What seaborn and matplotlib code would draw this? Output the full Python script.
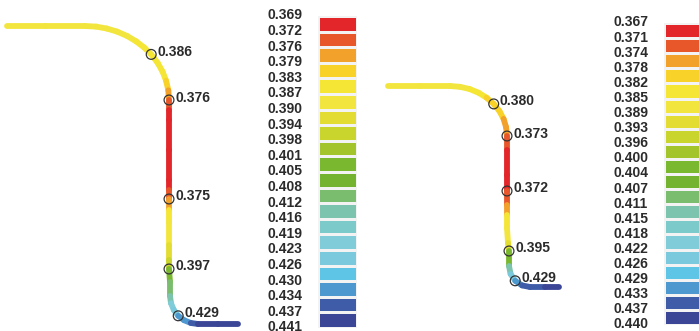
import numpy as np
import matplotlib
matplotlib.use("Agg")
import matplotlib.pyplot as plt
from matplotlib.collections import LineCollection
from matplotlib.colors import ListedColormap, BoundaryNorm
from matplotlib.transforms import ScaledTranslation
import seaborn as sns

# Contour palette shared by both thickness scales (thin = red, thick = blue)
palette = ["#E3262A", "#E8572A", "#F2A12A", "#F8D228", "#F5E535", "#F2E63E",
           "#E3DD33", "#C9D42C", "#A3C42A", "#7AB830", "#73B32F", "#7BBD6E",
           "#7CC4AE", "#7DCACB", "#80CCD9", "#7BC9DC", "#5EC5E7", "#4E98D0",
           "#3F5CA8", "#3C4697"]

# Thickness scale levels (mm)
left_levels = [0.369, 0.372, 0.376, 0.379, 0.383, 0.387, 0.390, 0.394, 0.398,
               0.401, 0.405, 0.408, 0.412, 0.416, 0.419, 0.423, 0.426, 0.430,
               0.434, 0.437, 0.441]
right_levels = [0.367, 0.371, 0.374, 0.378, 0.382, 0.385, 0.389, 0.393, 0.396,
                0.400, 0.404, 0.407, 0.411, 0.415, 0.418, 0.422, 0.426, 0.429,
                0.433, 0.437, 0.440]

# Left part: wall section (r, z in mm) and wall thickness (mm) per station
left_r = [1.75, 11.25, 21.25, 24.0, 26.68, 29.28, 31.75, 34.03, 36.1, 37.8,
          39.43, 40.65, 41.53, 42.08, 42.25, 42.25, 42.25, 42.25, 42.25, 42.25,
          42.25, 42.25, 42.25, 42.25, 42.25, 42.25, 42.5, 42.5, 42.75, 43.45,
          44.55, 46.0, 47.7, 49.5, 54.5, 59.5]
left_z = [-6.5, -6.5, -6.5, -6.65, -7.13, -7.9, -8.98, -10.33, -11.93, -13.6,
          -15.75, -17.93, -20.2, -22.58, -25.0, -27.5, -30.0, -37.5, -45.0,
          -47.5, -49.75, -52.5, -55.5, -61.25, -65.0, -67.25, -70.5, -74.0,
          -75.8, -77.5, -78.95, -80.05, -80.75, -81.0, -81.0, -81.0]
left_t = [0.389, 0.389, 0.388, 0.388, 0.388, 0.388, 0.387, 0.387, 0.386, 0.386,
          0.386, 0.385, 0.384, 0.381, 0.376, 0.372, 0.370, 0.369, 0.370, 0.372,
          0.375, 0.381, 0.387, 0.390, 0.393, 0.397, 0.405, 0.413, 0.417, 0.421,
          0.429, 0.432, 0.435, 0.437, 0.439, 0.440]
left_probes = [9, 14, 20, 25, 30]

# Right part
right_r = [97.0, 105.0, 112.5, 114.98, 117.38, 119.63, 121.65, 123.43, 124.85,
           125.9, 126.53, 126.75, 126.75, 126.75, 126.75, 126.75, 126.75,
           126.75, 127.0, 127.25, 127.25, 127.65, 128.8, 130.5, 132.5, 136.25,
           139.75]
right_z = [-21.5, -21.5, -21.5, -21.7, -22.25, -23.18, -24.43, -25.98, -27.75,
           -29.73, -31.83, -34.0, -37.5, -43.75, -47.75, -51.25, -53.75, -57.0,
           -60.75, -62.75, -66.5, -68.5, -70.2, -71.35, -71.75, -71.75, -71.75]
right_t = [0.388, 0.387, 0.386, 0.386, 0.385, 0.384, 0.382, 0.380, 0.379, 0.378,
           0.376, 0.373, 0.370, 0.369, 0.372, 0.373, 0.380, 0.387, 0.390, 0.395,
           0.408, 0.418, 0.429, 0.432, 0.434, 0.438, 0.440]
right_probes = [7, 11, 14, 19, 22]

sns.set_style("white")
plt.rcParams["font.family"] = ["Liberation Sans", "DejaVu Sans"]

TEXT = "#2b2b2b"
cmap = ListedColormap(palette)

fig = plt.figure(figsize=(6.99, 3.31), dpi=100)
ax = fig.add_axes([0, 0, 1, 1])
ax.set_xlim(0, 174.75)
ax.set_ylim(-82.75, 0)
ax.set_axis_off()


def draw_section(r, z, t, probes, levels):
    norm = BoundaryNorm(levels, len(palette))
    pts = np.column_stack([r, z])
    segs = np.stack([pts[:-1], pts[1:]], axis=1)
    t = np.asarray(t)
    seg_t = (t[:-1] + t[1:]) / 2
    lc = LineCollection(segs, colors=cmap(norm(seg_t)), linewidths=4.2,
                        capstyle="round", joinstyle="round", zorder=2)
    ax.add_collection(lc)
    pr = [r[i] for i in probes]
    pz = [z[i] for i in probes]
    sns.scatterplot(x=pr, y=pz, ax=ax, marker="o", s=50, facecolors="none",
                    edgecolor="#333333", linewidth=0.9, zorder=3, legend=False)
    for i in probes:
        ax.annotate(f"{t[i]:.3f}", (r[i], z[i]), xytext=(4.5, 1.8),
                    textcoords="offset points", ha="left", va="center",
                    fontsize=10, fontweight="bold", color=TEXT, zorder=4)


def draw_scale(rect, levels):
    cax = fig.add_axes(rect)
    lv = np.asarray(levels)
    mids = ((lv[:-1] + lv[1:]) / 2).reshape(-1, 1)
    norm = BoundaryNorm(levels, len(palette))
    sns.heatmap(mids, ax=cax, cmap=cmap, norm=norm, cbar=False,
                linewidths=1.0, linecolor="#f3f3f3",
                xticklabels=False, yticklabels=False)
    cax.set_yticks(np.arange(len(levels)))
    cax.set_yticklabels([f"{v:.3f}" for v in levels], rotation=0,
                        fontsize=10, fontweight="bold", color=TEXT)
    cax.tick_params(axis="y", length=0, pad=11.5)
    shift = ScaledTranslation(0, 1.5 / 72, fig.dpi_scale_trans)
    for lbl in cax.get_yticklabels():
        lbl.set_transform(lbl.get_transform() + shift)


draw_section(left_r, left_z, left_t, left_probes, left_levels)
draw_section(right_r, right_z, right_t, right_probes, right_levels)

draw_scale([318 / 699, 3 / 331, 39 / 699, 312 / 331], left_levels)
draw_scale([664 / 699, 6 / 331, 39 / 699, 302 / 331], right_levels)

fig.savefig("out.png", dpi=100)
